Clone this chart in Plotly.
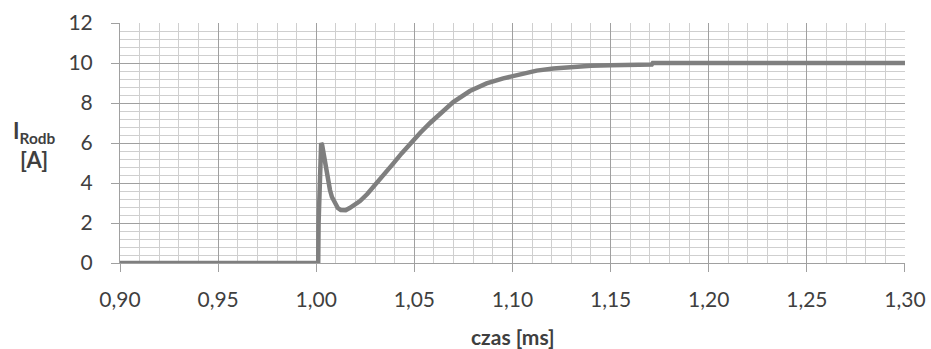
import plotly.graph_objects as go

czas = [0.90, 1.001, 1.0012, 1.0018, 1.0025, 1.003, 1.004, 1.0053, 1.006, 1.007,
        1.008, 1.0096, 1.011, 1.0125, 1.0136, 1.015, 1.017, 1.0195, 1.0223, 1.026,
        1.0308, 1.035, 1.0393, 1.0435, 1.0478, 1.0529, 1.058, 1.0635, 1.0698, 1.0783,
        1.0868, 1.0953, 1.1038, 1.1123, 1.1208, 1.1293, 1.14, 1.15, 1.16, 1.171,
        1.1715, 1.30]
i_rodb = [0.0, 0.0, 2.0, 4.5, 6.0, 5.9, 5.3, 4.6, 4.15, 3.65,
          3.3, 2.95, 2.75, 2.65, 2.62, 2.64, 2.75, 2.9, 3.1, 3.45,
          3.98, 4.47, 4.98, 5.48, 5.98, 6.5, 7.0, 7.5, 8.05, 8.6,
          8.98, 9.23, 9.45, 9.62, 9.73, 9.8, 9.86, 9.89, 9.91, 9.93,
          10.0, 10.0]

x_ticks = [0.90, 0.95, 1.00, 1.05, 1.10, 1.15, 1.20, 1.25, 1.30]
y_ticks = [0, 2, 4, 6, 8, 10, 12]

fig = go.Figure()
fig.add_trace(go.Scatter(x=czas, y=i_rodb, mode="lines",
                         line=dict(color="#7f7f7f", width=4.5),
                         cliponaxis=False, showlegend=False))

font_family = "Lato, Carlito, 'Open Sans', sans-serif"
txt = "#3f3f3f"
fig.update_layout(
    width=931, height=349,
    margin=dict(l=120, r=26, t=23, b=86),
    paper_bgcolor="white", plot_bgcolor="white",
    separators=", ",
    font=dict(family=font_family, size=21, color=txt),
    xaxis=dict(range=[0.90, 1.30001], tickvals=x_ticks, tickformat=".2f",
               automargin=False,
               showgrid=True, gridcolor="#a0a0a0", gridwidth=1,
               minor=dict(dtick=0.01, tick0=0.90, showgrid=True, gridcolor="#cfcfcf", gridwidth=1),
               showline=True, linecolor="#a0a0a0", linewidth=1,
               ticks="outside", ticklen=8, tickcolor="#a0a0a0",
               ticklabelstandoff=10,
               zeroline=False),
    yaxis=dict(range=[0, 12], tickvals=y_ticks,
               automargin=False,
               showgrid=True, gridcolor="#a0a0a0", gridwidth=1,
               minor=dict(dtick=0.4, tick0=0, showgrid=True, gridcolor="#cfcfcf", gridwidth=1),
               showline=True, linecolor="#a0a0a0", linewidth=1,
               ticks="outside", ticklen=8, tickcolor="#a0a0a0",
               ticklabelstandoff=14,
               zeroline=False),
)
fig.add_annotation(text="<b>czas [ms]</b>", xref="paper", yref="paper",
                   x=0.5, y=-0.305, xanchor="center", yanchor="middle", showarrow=False,
                   font=dict(size=21, color=txt))
fig.add_annotation(text="<b>I<sub>Rodb</sub><br>[A]</b>", xref="paper", yref="paper",
                   x=-0.1096, y=0.49, xanchor="center", yanchor="middle", showarrow=False,
                   font=dict(size=22, color=txt), align="center")

fig.write_html("out.html", config={"displayModeBar": False},
               post_script="document.body.style.margin='0';document.body.style.overflow='hidden';")
